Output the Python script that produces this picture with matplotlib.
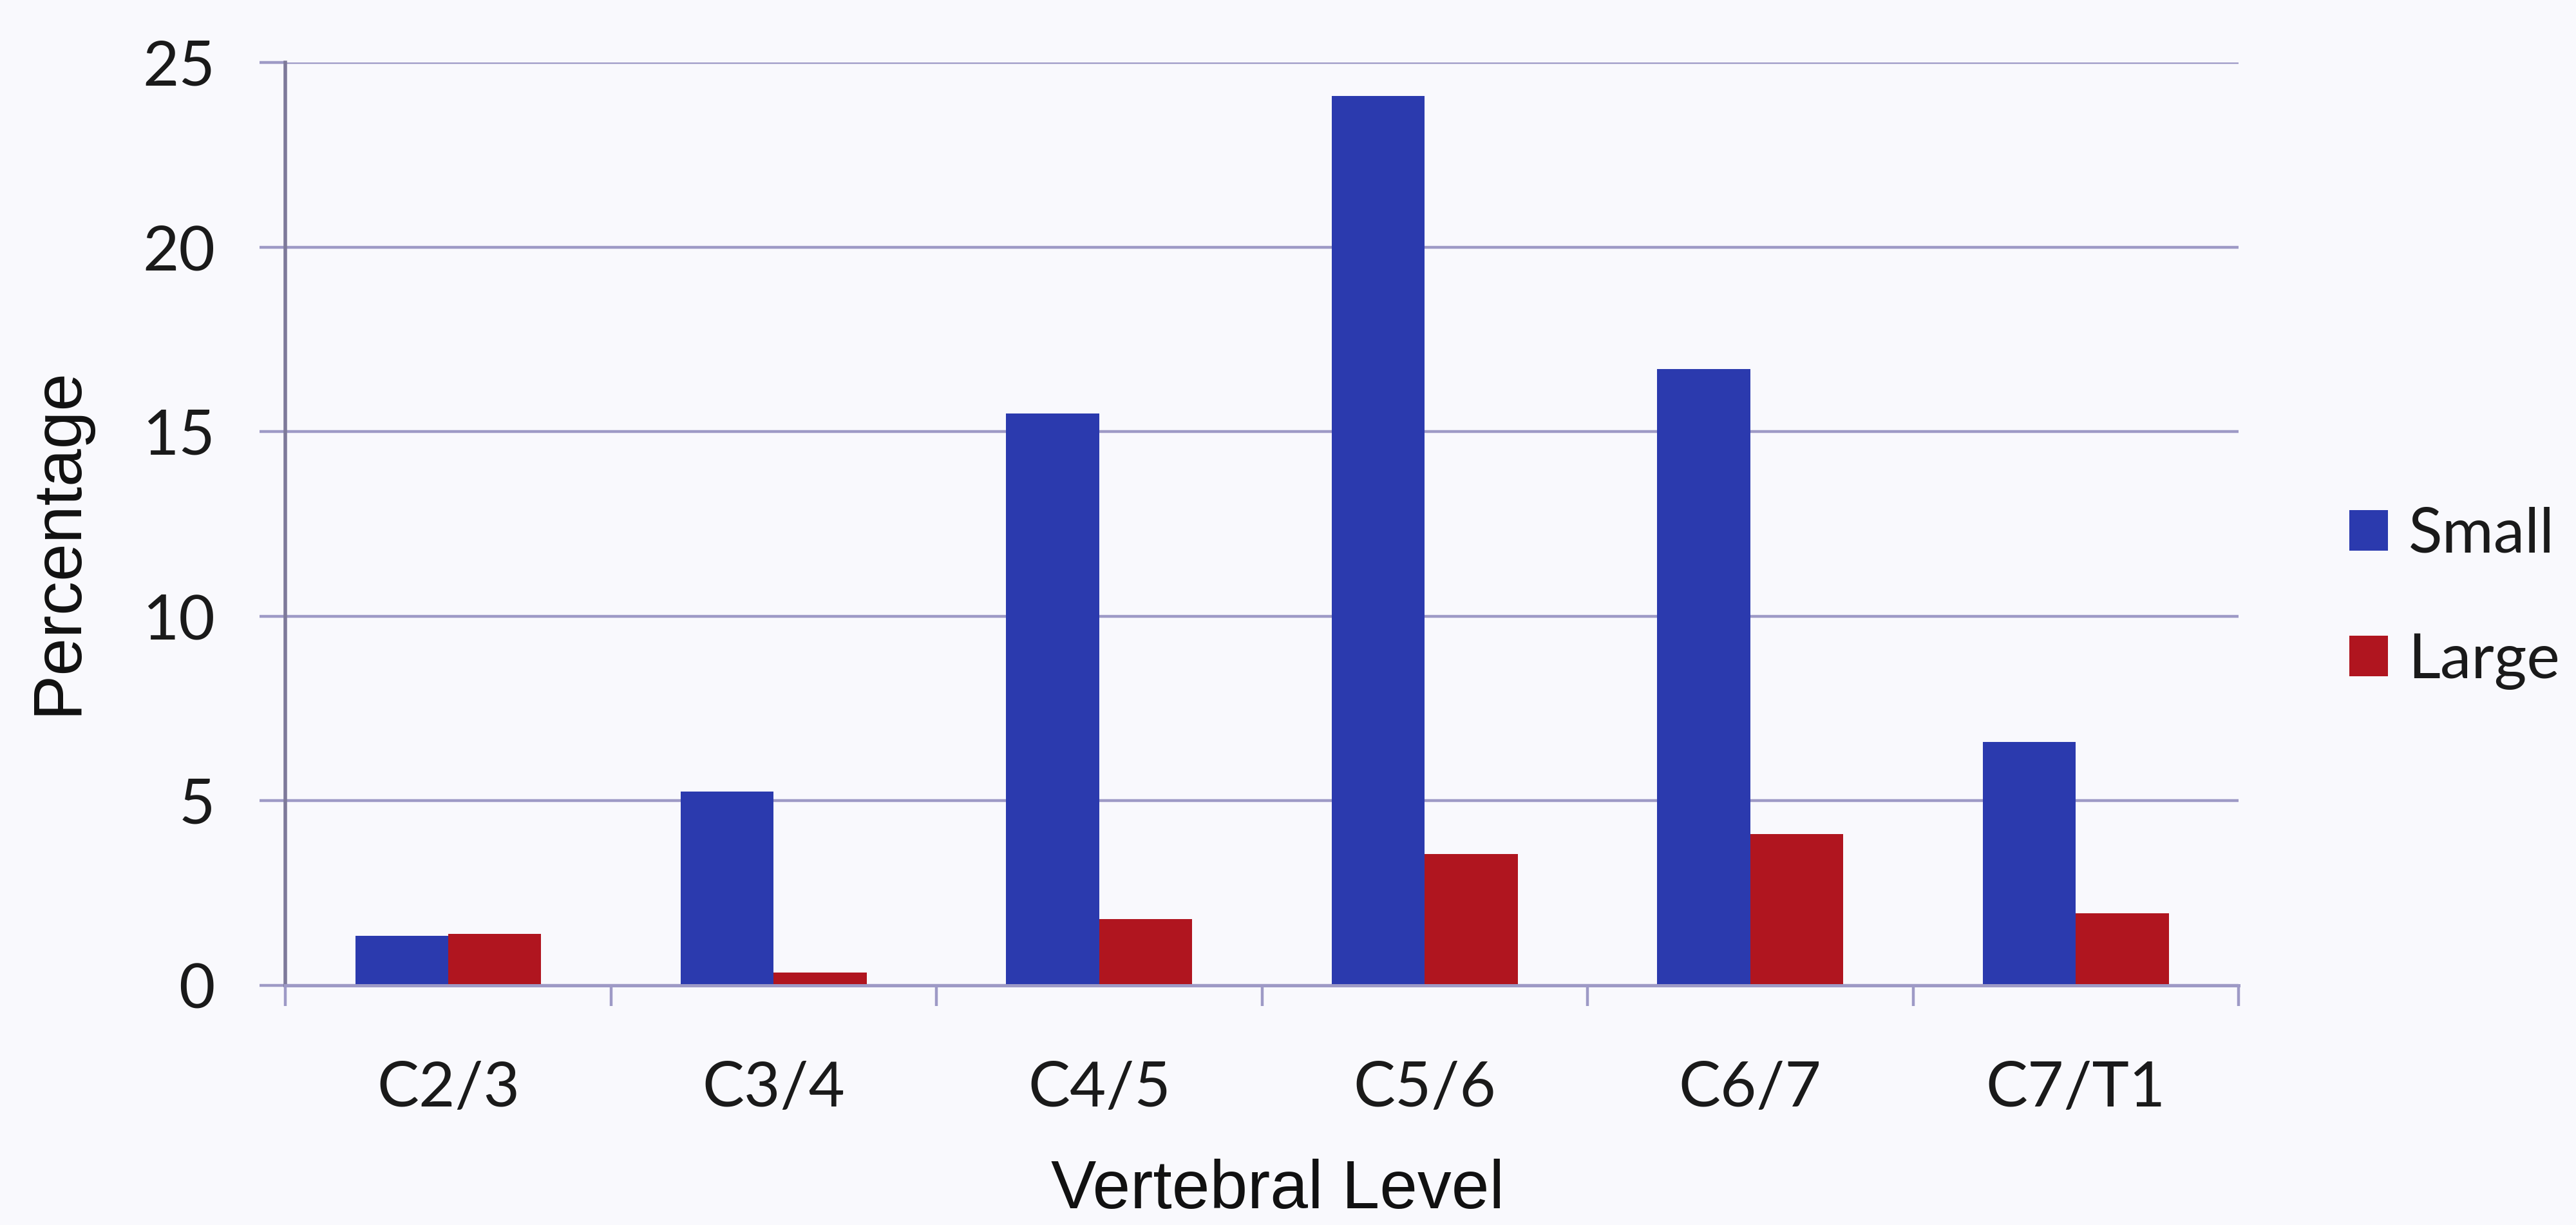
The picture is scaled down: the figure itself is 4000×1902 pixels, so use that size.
import numpy as np
import matplotlib
matplotlib.use("Agg")
import matplotlib.pyplot as plt

# dados: percentual de casos por nível vertebral
niveis = ['C2/3', 'C3/4', 'C4/5', 'C5/6', 'C6/7', 'C7/T1']
small = [1.35, 5.25, 15.5, 24.1, 16.7, 6.6]
large = [1.4, 0.35, 1.8, 3.55, 4.1, 1.95]
y_ticks = [0, 5, 10, 15, 20, 25]

cor_small = '#2b3aae'
cor_large = '#b0151f'
cor_grade = '#9e9ac6'
cor_eixo = '#7e7a9a'
fundo = '#f9f9fd'

fig = plt.figure(figsize=(20, 9.51), dpi=200, facecolor=fundo)
ax = fig.add_axes([0.1108, 0.1956, 0.869 - 0.1108, 0.949 - 0.1956])
ax.set_facecolor(fundo)

x = np.arange(len(niveis))
largura = 0.2857
ax.bar(x - largura / 2, small, width=largura, color=cor_small, label='Small', zorder=3)
ax.bar(x + largura / 2, large, width=largura, color=cor_large, label='Large', zorder=3)

ax.set_xlim(-0.5, len(niveis) - 0.5)
ax.set_ylim(0, 25)

# grade horizontal
ax.set_yticks(y_ticks)
ax.set_yticklabels([str(v) for v in y_ticks], family='Lato', fontsize=35, color='#1a1a1a')
ax.yaxis.grid(True, color=cor_grade, linewidth=1.6, zorder=0)
ax.tick_params(axis='y', length=14.4, width=1.6, color=cor_grade, pad=25)

# rótulos no centro, marcas nas divisões entre categorias
ax.set_xticks(x)
ax.set_xticklabels(niveis, family='Lato', fontsize=35, color='#1a1a1a')
ax.set_xticks(np.arange(-0.5, len(niveis)), minor=True)
ax.tick_params(axis='x', which='major', length=0, pad=42)
ax.tick_params(axis='x', which='minor', length=11.5, width=1.6, color=cor_grade)

for lado in ['top', 'right']:
    ax.spines[lado].set_visible(False)
ax.spines['left'].set_color(cor_eixo)
ax.spines['left'].set_linewidth(2.0)
ax.spines['bottom'].set_color(cor_grade)
ax.spines['bottom'].set_linewidth(1.8)
ax.spines['bottom'].set_zorder(4)

ax.set_xlabel('Vertebral Level', family='Liberation Sans', fontsize=38, color='#111111')
ax.xaxis.set_label_coords(0.508, -0.188)
ax.set_ylabel('Percentage', family='Liberation Sans', fontsize=38, color='#111111')
ax.yaxis.set_label_coords(-0.0999, 0.4815)

leg = fig.legend(loc='center left', bbox_to_anchor=(0.912, 0.5116), frameon=False,
                 prop={'family': 'Lato', 'size': 35}, handlelength=0.62, handleheight=0.62,
                 handletextpad=0.32, labelspacing=1.1, borderpad=0, borderaxespad=0)
for t in leg.get_texts():
    t.set_color('#1a1a1a')

plt.savefig('out.png', dpi=200, facecolor=fundo)
